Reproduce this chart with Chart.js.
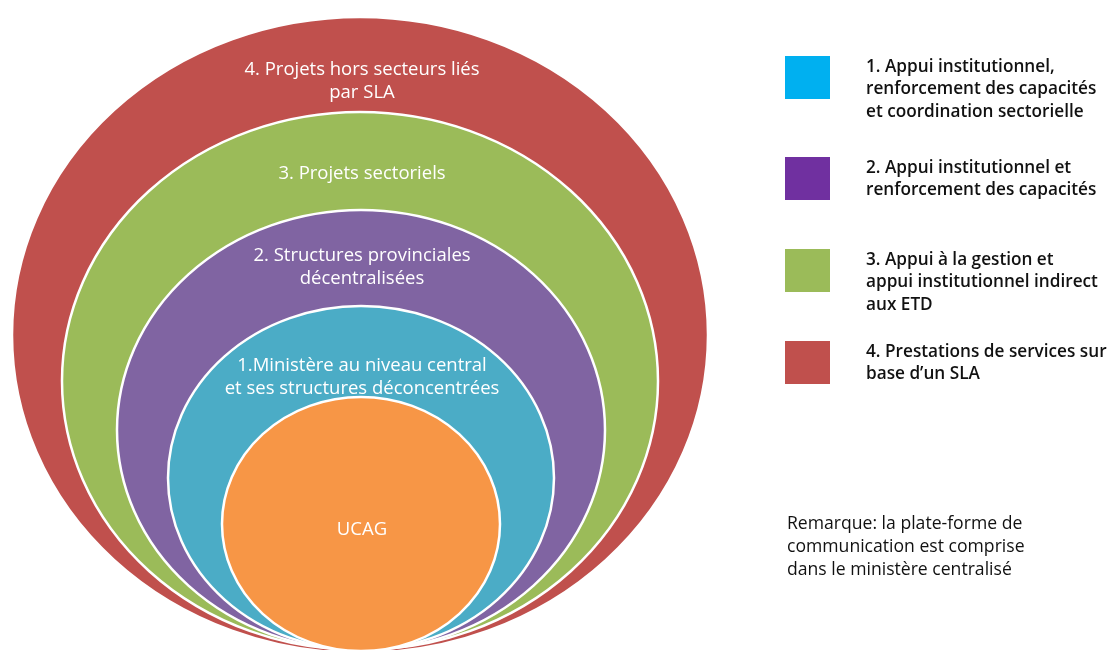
<!DOCTYPE html>
<html>
<head>
<meta charset="utf-8">
<script src="https://cdn.jsdelivr.net/npm/chart.js@4.4.1/dist/chart.umd.min.js"></script>
<style>
  html, body { margin: 0; padding: 0; background: #fff; }
  #wrap { width: 1114px; height: 650px; }
</style>
</head>
<body>
<div id="wrap"><canvas id="rings"></canvas></div>
<script>
// Rings, outermost first (values in diagram units)
const ringLabels = [
    ['4. Projets hors secteurs liés', 'par SLA'],
    ['3. Projets sectoriels'],
    ['2. Structures provinciales', 'décentralisées'],
    ['1.Ministère au niveau central', 'et ses structures déconcentrées'],
    ['UCAG'],
];
const ringCenterX = [360, 360, 361, 361, 361];
const ringCenterY = [335, 381, 430, 478, 524];
const ringRadiusX = [348, 298, 244, 193, 139];
const ringRadiusY = [318, 269, 220, 172, 127];

// Legend entries
const legendLabels = [
    ['1. Appui institutionnel,', 'renforcement des capacités', 'et coordination sectorielle'],
    ['2. Appui institutionnel et', 'renforcement des capacités'],
    ['3. Appui à la gestion et', 'appui institutionnel indirect', 'aux ETD'],
    ['4. Prestations de services sur', 'base d\u2019un SLA'],
];
const remarkLines = [
    'Remarque: la plate-forme de',
    'communication est comprise',
    'dans le ministère centralisé',
];

const ringColors = ['#C0504D', '#9BBB59', '#8064A2', '#4BACC6', '#F79646'];
const legendColors = ['#00B0F0', '#7030A0', '#9BBB59', '#C0504D'];
const ringTextY = [70, 174, 256, 366, 530];
const legendTop = [56, 157, 249, 341];

const ringPlugin = {
    id: 'ringPlugin',
    afterDatasetsDraw(chart) {
        const { ctx, scales: { x, y } } = chart;
        ctx.save();
        ringCenterX.forEach((cx, i) => {
            const px = x.getPixelForValue(cx);
            const py = y.getPixelForValue(ringCenterY[i]);
            const rx = Math.abs(x.getPixelForValue(cx + ringRadiusX[i]) - px);
            const ry = Math.abs(y.getPixelForValue(ringCenterY[i] + ringRadiusY[i]) - py);
            ctx.beginPath();
            ctx.ellipse(px, py, rx, ry, 0, 0, Math.PI * 2);
            ctx.fillStyle = ringColors[i];
            ctx.fill();
            ctx.lineWidth = 2.5;
            ctx.strokeStyle = '#ffffff';
            ctx.stroke();
        });

        // ring captions
        ctx.fillStyle = '#ffffff';
        ctx.textAlign = 'center';
        ctx.textBaseline = 'middle';
        ctx.font = '18.5px "Open Sans"';
        ringLabels.forEach((lines, i) => {
            lines.forEach((t, j) => {
                ctx.fillText(t, x.getPixelForValue(362), y.getPixelForValue(ringTextY[i] + j * 23));
            });
        });

        // legend
        ctx.textAlign = 'left';
        legendLabels.forEach((lines, i) => {
            ctx.fillStyle = legendColors[i];
            ctx.fillRect(785, legendTop[i], 45, 43);
            ctx.fillStyle = '#111111';
            ctx.font = '600 17.2px "Open Sans"';
            lines.forEach((t, j) => {
                ctx.fillText(t, 866, legendTop[i] + 11 + j * 22.5);
            });
        });

        ctx.font = '500 17.6px "Open Sans"';
        ctx.fillStyle = '#111111';
        remarkLines.forEach((t, j) => {
            ctx.fillText(t, 787, 524 + j * 23);
        });
        ctx.restore();
    }
};

new Chart(document.getElementById('rings'), {
    type: 'scatter',
    data: {
        datasets: [{
            label: 'rings',
            data: ringCenterX.map((cx, i) => ({ x: cx, y: ringCenterY[i] })),
            pointRadius: 0,
        }],
    },
    options: {
        responsive: true,
        maintainAspectRatio: false,
        animation: false,
        layout: { padding: 0 },
        plugins: { legend: { display: false }, tooltip: { enabled: false } },
        scales: {
            x: { type: 'linear', min: 0, max: 1114, display: false },
            y: { type: 'linear', min: 0, max: 650, reverse: true, display: false },
        },
    },
    plugins: [ringPlugin],
});
</script>
</body>
</html>
